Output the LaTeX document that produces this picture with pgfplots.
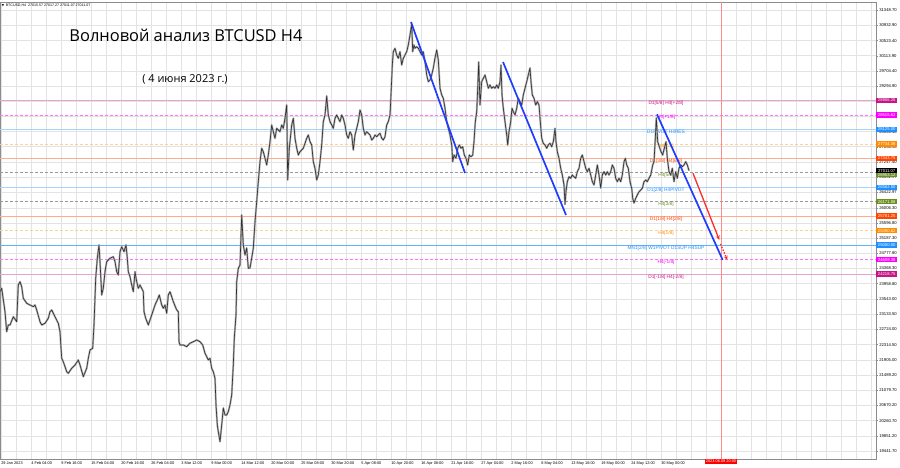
\documentclass[border=0pt]{standalone}
\usepackage{fontspec}
\setmainfont{Liberation Sans}
\newfontfamily\titlefont{Open Sans}
\newfontfamily\dejavu{DejaVu Sans}
\usepackage{pgfplots}
\usepackage{pgfplotstable}
\pgfplotsset{compat=1.18}
\usetikzlibrary{arrows.meta}

\definecolor{mvred}{HTML}{C71585}
\definecolor{mag}{HTML}{FF00FF}
\definecolor{dblue}{HTML}{1E90FF}
\definecolor{dorange}{HTML}{FF8C00}
\definecolor{ored}{HTML}{FF4500}
\definecolor{olivec}{HTML}{6B8E23}
\definecolor{trend}{HTML}{1F3DFF}
\definecolor{arrowred}{HTML}{FF2A2A}
\definecolor{gridc}{HTML}{E3E3E3}
\definecolor{framec}{HTML}{8C8C8C}

% x = chart column (0..876), p = price
\pgfplotstableread{
x p
0 23743
1.7 23835
5 23203
6.7 22663
8.3 22844
10 22844
13.3 23068
16.7 22933
18.3 23924
20 24013
21.7 23878
23.3 23565
26.7 23430
30 23384
33.3 23338
35 23384
36.7 23249
40 22933
41.7 22844
45 22890
48.3 23025
50 23203
51.7 23249
55 23068
58.3 22890
60 22663
61.7 21945
63.3 21853
66.7 21583
68.3 21540
71.7 21675
75 21764
78.3 21899
80 21764
83.3 21448
86.7 21675
88.3 21945
90 22169
92.7 22215
94 22844
95.7 24105
97.3 24645
99 25004
100 24553
101.7 23654
103.3 23835
105 24283
106.7 24553
110 24645
113.3 24688
115 24553
116.7 24283
118.3 24194
120 24823
121.7 24958
124 24823
126 25004
127.3 24645
128.3 24283
130 24148
131.7 23924
133.3 23743
135 24283
136.7 24013
138.3 23835
140 23924
141.7 23835
143.3 23743
144 23203
145.7 23025
148.3 22844
151.7 23114
155 23384
157.3 23519
159.3 23654
161.7 23384
163.3 23295
165 23384
166.7 23160
168.3 23654
170 23743
171.7 23608
173.3 23473
176.7 23249
178.3 23203
179 22393
180 22304
183.3 22304
186.7 22258
190 22350
193.3 22393
196.7 22439
200 22393
202.7 22304
205 22080
208.3 21899
210 21945
211.7 21675
213.3 21583
215 21405
216 20684
217.3 20144
218.3 19963
220 19693
221.7 20144
223.3 20603
225 20414
226.7 20414
228.3 20503
230 20684
231.7 20954
233.3 21764
234.3 22493
236 23114
236.7 24013
238.3 24375
240 24464
241.7 25814
243.3 25004
245 24734
246.7 24923
248.3 24375
250 24383
251.7 24653
253.3 24915
255 25633
256.7 26173
258.3 26713
260 27253
261.7 27615
263.3 27523
265 27345
266.7 27164
268.3 27434
270 27793
271.7 28244
273.3 28063
275 27885
276.7 28155
280 28063
281.7 28244
283.3 28155
285 28425
286.7 28784
287.7 26759
289.3 27615
291.7 28244
293.3 28425
295 27885
296.7 27615
298.3 27434
300 27523
303.3 27615
306.7 27885
308.3 27974
310 27793
311.7 27704
313.3 27253
315 27075
316.7 26759
318.3 26894
320 27253
321.7 27704
323.3 28333
325 28514
326.7 29027
328.3 28514
330 28333
331.7 28244
333.3 28155
335 28425
336.7 28514
338.3 28425
340 28333
341.7 28514
343.3 28425
345 28244
346.7 27974
348.3 27885
350 28063
351.7 27974
353.3 27569
355 27974
356.7 28155
358.3 28333
360 28649
361.7 28514
363.3 28155
365 27974
366.7 28063
368.3 28020
370 27974
371.7 27839
373.3 27885
375 27974
376.7 27928
378.3 27974
380 28020
381.7 27885
383.3 27839
385 27928
386.7 28244
388.3 28333
390 28514
391 29054
392.3 29864
393.3 30223
395 30315
396.7 30134
398.3 30045
400 30223
401.7 29864
403.3 30045
405 30134
406.7 30223
408.3 30404
410 30674
411.7 30971
412.7 30223
414 30404
415 30315
416.7 30358
418.3 30315
420 30223
421.7 30134
423.3 30223
425 29953
426.7 29594
428.3 29413
430 29459
431.7 29594
433.3 29783
435 30053
436.7 30269
438.3 29999
440 29235
441.7 29054
443.3 28965
445 28695
446.7 28333
448.3 28155
450 27974
451.7 27704
452.7 27253
454 27434
456 27345
457.7 27615
459.3 27704
461 27615
462.7 27657
464.3 27434
466 27345
467.7 27164
469.3 27434
471 27388
472.7 27434
474 27793
475.3 28333
476.7 28603
477.7 29235
478.7 29945
480 28784
481.7 29413
483.3 29505
485 29594
486.7 29413
488.3 29235
490 29324
491.7 29235
493.3 29278
495 29235
496.7 29324
498.3 29235
500 29413
501 29864
502 29054
503.3 28695
505 28333
506.7 27974
507.7 27704
509 28063
510.7 28333
512 28695
513.3 28603
515 28514
516.7 28695
518.3 28965
520 28873
521.7 28784
523.3 29054
525 29235
526.7 29413
528.3 29594
530 29783
531 29413
532.3 29054
534 28965
535.7 28784
537.3 28873
539 28784
540.3 28333
541.7 27885
543.3 27749
545 27704
546.7 27615
548.3 27704
550 27749
551.7 27657
553.3 27793
555 28155
556 27793
557.3 27523
559 27345
560.7 27075
562.3 26894
564 26624
565 26100
566 26443
567.3 26713
569 26848
570.7 26805
572.3 26894
574 26848
575.7 26805
577.3 26983
579 27075
580.7 27345
582.3 27434
584 27253
585.7 27075
587.3 26983
589 27075
590.7 26894
592.3 26713
594 26624
595.7 26894
597.3 27164
599 26894
600.7 26543
602.3 26894
604 26983
605.7 26894
607.3 26983
609 26894
610.7 26983
612.3 27164
614 27075
615.7 26805
617.3 26713
619 26805
620.7 26713
622.3 26894
624 27253
625.3 27345
626.7 27164
628.3 27075
630 26713
631.7 26535
632.7 26265
634 26138
635.7 26265
637.3 26354
639 26443
640.7 26489
642.3 26535
644 26713
645.7 26759
647.3 26713
649 26805
650.7 26894
652.7 27164
654 27253
655.3 27885
656.3 28433
657.7 27793
659.3 27657
661 27523
662.7 27434
664.3 27615
666 27793
667.3 27345
669 26983
670.7 26894
672.3 27075
674 26713
675.7 26983
677.3 26805
679 27075
680.7 27164
682.3 27118
684 27164
685.7 27253
687.3 27164
689 27011
}\price

\newcommand\lvl[5]{%
  \addplot[#2] coordinates {(0,#1) (876,#1)};
  \node[font=\fontsize{4.8}{5}\selectfont, text=#3, anchor=north, inner sep=0.4pt] at (axis cs:666,#1) {#4};
  \coordinate (#5) at (axis cs:876,#1);
}
\newcommand\pbox[3]{%
  \node[fill=#2, text=white, font=\fontsize{4.2}{5}\selectfont, anchor=west,
        inner sep=0.5pt, minimum width=21bp, minimum height=5.4bp] at (#1) {#3};
}

\begin{document}
\begin{tikzpicture}
\begin{axis}[
  scale only axis, width=876bp, height=457bp,
  xmin=0, xmax=876, ymin=19225.7, ymax=31564.7,
  clip=false,
  axis line style={framec},
  grid=both,
  major grid style={gridc, line width=0.5bp},
  minor grid style={gridc, line width=0.5bp},
  xtick={1,31,...,871},
  minor x tick num=1,
  xticklabels={29 Jan 2023,4 Feb 04:00,9 Feb 16:00,15 Feb 04:00,20 Feb 16:00,26 Feb 04:00,3 Mar 12:00,9 Mar 00:00,14 Mar 12:00,20 Mar 00:00,25 Mar 08:00,30 Mar 20:00,5 Apr 08:00,10 Apr 20:00,16 Apr 08:00,21 Apr 16:00,27 Apr 04:00,2 May 16:00,8 May 04:00,13 May 16:00,19 May 00:00,24 May 12:00,30 May 00:00,{},{},{},{},{},{},{}},
  xticklabel style={font=\fontsize{3.9}{4.5}\selectfont, anchor=north west, inner sep=0.6pt, xshift=-0.5bp},
  ytick={19441.7,19851.2,20260.7,20670.2,21079.7,21489.2,21905,22314.5,22724,23133.5,23543,23958.8,24368.3,24777.8,25187.3,25596.8,26006.3,26422.97,26831.97,27247.4,27656.9,28066.4,28475.9,28885.4,29294.9,29704.4,30113.9,30523.4,30932.9,31348.7},
  scaled y ticks=false, scaled x ticks=false,
  yticklabel pos=right,
  yticklabel style={font=\fontsize{4.2}{5}\selectfont, inner sep=0.6pt, xshift=1bp,
    /pgf/number format/.cd, fixed, fixed zerofill, precision=2, 1000 sep={}, assume math mode=true},
  xtick pos=bottom, ytick pos=right,
  tick align=outside, major tick length=1.5bp, minor tick length=0pt,
  tick style={framec, line width=0.4bp},
]
% Murrey levels
\lvl{28906.25}{mvred!40, line width=0.6bp}{mvred}{D1[5/8] H4[+2/8]}{L1}
\lvl{28515.62}{mag!55, line width=0.6bp, dash pattern=on 3bp off 2bp}{mag}{H4[+1/8]}{L2}
\lvl{28125.00}{dblue!40, line width=0.6bp}{dblue}{D1PIVOT H4RES}{L3}
\lvl{27734.38}{dorange!40, line width=0.6bp, dash pattern=on 3bp off 2bp}{dorange}{H4[7/8]}{L4}
\lvl{27343.75}{ored!45, line width=0.6bp}{ored}{D1[3/8] H4[6/8]}{L5}
\lvl{26953.12}{black!40, line width=0.6bp, dash pattern=on 3bp off 2bp}{olivec}{H4[5/8]}{L6}
\lvl{26562.50}{dblue!40, line width=0.6bp}{dblue}{D1[2/8] H4PIVOT}{L7}
\lvl{26171.88}{black!40, line width=0.6bp, dash pattern=on 3bp off 2bp}{olivec}{H4[3/8]}{L8}
\lvl{25781.25}{ored!45, line width=0.6bp}{ored}{D1[1/8] H4[2/8]}{L9}
\lvl{25390.62}{dorange!40, line width=0.6bp, dash pattern=on 3bp off 2bp}{dorange}{H4[1/8]}{L10}
\lvl{25000.00}{dblue!70, line width=0.7bp}{dblue}{MN1[2/8] W1PIVOT D1SUP H4SUP}{L11}
\lvl{24609.38}{mag!55, line width=0.6bp, dash pattern=on 3bp off 2bp}{mag}{H4[-1/8]}{L12}
\lvl{24218.75}{mvred!40, line width=0.6bp}{mvred}{D1[-1/8] H4[-2/8]}{L13}
\coordinate (LB) at (axis cs:876,27011.07);

% future time marker
\addplot[arrowred!55, line width=0.5bp] coordinates {(721,19225.7) (721,31564.7)};

% price
\addplot[black!32, line width=1.9bp, line join=round] table[x=x, y=p] {\price};
\addplot[black!82, line width=0.6bp, line join=round] table[x=x, y=p] {\price};

% wave lines
\addplot[trend, line width=1.7bp] coordinates {(411,31025) (465,26948)};
\addplot[trend, line width=1.7bp] coordinates {(503,29945) (566,25814)};
\addplot[trend, line width=1.7bp] coordinates {(657,28533) (722.7,24599)};
\addplot[arrowred, line width=1.3bp, -{Stealth[length=4.5bp, width=4bp]}] coordinates {(693,26940) (719.3,25139)};
\addplot[arrowred, line width=1.3bp, dash pattern=on 1.5bp off 1.5bp, -{Stealth[length=4.5bp, width=4bp]}] coordinates {(720.5,25031) (727.3,24599)};

\node[fill=red, text=white, font=\fontsize{3.9}{4.5}\selectfont, anchor=north, inner sep=0.8pt] at (axis cs:721,19225.7) {2023.06.09 20:00};

\node[font=\titlefont\fontsize{16.5}{18}\selectfont] at (rel axis cs:0.2123,0.9278) {Волновой анализ BTCUSD H4};
\node[font=\titlefont\fontsize{11}{13}\selectfont] at (rel axis cs:0.2112,0.8315) {( 4 июня 2023 г.)};
\node[font=\fontsize{3.6}{4}\selectfont, anchor=west, inner sep=0pt] at (rel axis cs:0.002,0.9934) {{\dejavu\fontsize{3}{4}\selectfont▼}\, BTCUSD,H4\ \ 27015.57 27017.27 27011.07 27011.07};
\end{axis}

\pbox{L1}{mvred}{28906.25}
\pbox{L2}{mag}{28515.62}
\pbox{L3}{dblue}{28125.00}
\pbox{L4}{dorange}{27734.38}
\pbox{L5}{ored}{27343.75}
\pbox{[yshift=-1.8bp]L6}{olivec}{26953.12}
\pbox{LB}{black}{27011.07}
\pbox{L7}{dblue}{26562.50}
\pbox{L8}{olivec}{26171.88}
\pbox{L9}{ored}{25781.25}
\pbox{L10}{dorange}{25390.62}
\pbox{L11}{dblue}{25000.00}
\pbox{L12}{mag}{24609.38}
\pbox{L13}{mvred}{24218.75}

\pgfresetboundingbox
\path (0,-9bp) rectangle (900bp,459bp);
\end{tikzpicture}
\end{document}
